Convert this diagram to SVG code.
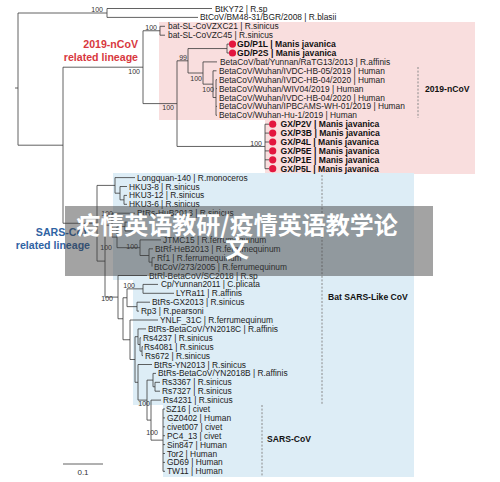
<svg xmlns="http://www.w3.org/2000/svg" width="500" height="482" viewBox="0 0 500 482">
<style>
.t{font-family:"Liberation Sans",Arial,Helvetica,sans-serif;font-size:8.4px;fill:#222}
.tb{font-weight:bold;font-size:8.6px;fill:#111}
.bs{font-family:"Liberation Sans",Arial,sans-serif;font-size:7px;fill:#333;text-anchor:end}
.br{fill:none;stroke:#3a3a3a;stroke-width:0.8}
.dot{fill:#e3163f}
.dash{fill:none;stroke:#8a8a8a;stroke-width:1;stroke-dasharray:2 1.6}
.lin{font-family:"Liberation Sans",Arial,sans-serif;font-size:10.6px;font-weight:bold;text-anchor:end}
.clade{font-family:"Liberation Sans",Arial,sans-serif;font-size:8.6px;font-weight:bold;fill:#111}
</style>
<rect width="500" height="482" fill="#fff"/>
<g id="panels">
<polygon points="159,22 475,22 475,174 265,174 265,120 159,120" fill="#f9dede"/>
<polygon points="113,173 414,173 414,477 163,477 163,405 133,405 133,280 113,280" fill="#ddedf6"/>
</g>
<g id="connectors" class="br">
<path d="M15,88H18M18,13V145.2M18,13H107M107,8.5V17.4M107,8.5H212M107,17.4H198M18,145.2H63M63,67.2V223.25M63,67.2H143M143,30.75V103.6M143,30.75H160M160,26.3V35.2M160,26.3H165M160,35.2H165M143,103.6H177M177,60.8V146.45M177,60.8H188M188,48.55V73M188,48.55H227M227,44.1V53M227,44.1H230M227,53H230M188,73H203M203,61.9V84.15M203,61.9H217M203,84.15H213M213,70.8V97.5M213,70.8H216.5M213,97.5H216M216,79.7V115.3M216,79.7H217M216,88.6H217M216,106.4H217M216,115.3H217M177,146.45H265M265,124.2V168.7M265,124.2H269M265,133.1H269M265,142H269M265,150.9H269M265,159.8H269M265,168.7H269"/>
<path d="M63,223.25H97M97,185.4V261.1M97,185.4H115M115,177.6V193.2M115,177.6H135M115,193.2H120M120,186.5V199.85M120,186.5H127M120,199.85H124M124,195.4V204.3M124,195.4H127M124,204.3H127M97,261.1H105M105,225.15V297.1M105,225.15H112M112,213.2V237.1M112,213.2H135M112,237.1H117M117,226.55V247.7M117,226.55H125M125,222.1V231M125,222.1H140M125,231H136M117,247.7H140M140,239.9V255.5M140,239.9H161M140,255.5H149M149,248.8V262.15M149,248.8H153M149,262.15H152M152,257.7V266.6M152,257.7H155"/>
<path d="M105,297.1H118M118,275.5V318.75M118,275.5H147M118,318.75H123M123,297.75V339.75M123,297.75H127M127,288.85V306.65M127,288.85H143M143,284.4V293.3M143,284.4H158M143,293.3H174M127,306.65H137M137,302.2V311.1M137,302.2H150M137,311.1H139M123,339.75H130M130,320V359.5M130,320H158M130,359.5H135M135,336.7V382.3M135,336.7H138M138,328.9V344.5M138,328.9H146M138,344.5H140M140,337.8V351.15M140,337.8H141M140,351.15H142M142,346.7V355.6M142,346.7H143M142,355.6H143M135,382.3H138M138,364.5V400.1M138,364.5H152M138,400.1H147M147,380.1V420.1M147,380.1H153M153,373.4V386.75M153,373.4H156M153,386.75H155M155,382.3V391.2M155,382.3H160M155,391.2H160M147,420.1H151M151,400.1V440.15M151,400.1H161M151,440.15H163M163,409V471.3M163,409H165M163,417.9H165M163,426.8H165M163,435.7H165M163,444.6H165M163,453.5H165M163,462.4H165M163,471.3H165"/>
<path d="M63,464H103"/>
</g>
<g id="bootstrap">
<text class="bs" x="103" y="11.5">100</text>
<text class="bs" x="157" y="29.5">100</text>
<text class="bs" x="140" y="74">100</text>
<text class="bs" x="174" y="110">100</text>
<text class="bs" x="187" y="59.5">99</text>
<text class="bs" x="202" y="81">100</text>
<text class="bs" x="214" y="92">100</text>
<text class="bs" x="262" y="145.5">100</text>
<text class="bs" x="113" y="215.5">100</text>
<text class="bs" x="112" y="249.5">100</text>
<text class="bs" x="138" y="248.5">100</text>
<text class="bs" x="135" y="287.5">100</text>
<text class="bs" x="113" y="300.5">100</text>
<text class="bs" x="150" y="405.5">100</text>
<text class="bs" x="158" y="434.5">100</text>
</g>
<g id="n-BtKY72"><text class="t" x="215" y="11.5">BtKY72 | R.sp</text></g>
<g id="n-BM48"><text class="t" x="200" y="20.4">BtCoV/BM48-31/BGR/2008 | R.blasii</text></g>
<g id="n-ZXC21"><text class="t" x="168" y="29.3">bat-SL-CoVZXC21 | R.sinicus</text></g>
<g id="n-ZC45"><text class="t" x="168" y="38.2">bat-SL-CoVZC45 | R.sinicus</text></g>
<g id="n-GDP1L"><circle class="dot" cx="232.5" cy="44.1" r="3.6"/><text class="t tb" x="237" y="47.1">GD/P1L | Manis javanica</text></g>
<g id="n-GDP2S"><circle class="dot" cx="232.5" cy="53" r="3.6"/><text class="t tb" x="237" y="56">GD/P2S | Manis javanica</text></g>
<g id="n-RaTG13"><text class="t" x="220" y="64.9">BetaCoV/bat/Yunnan/RaTG13/2013 | R.affinis</text></g>
<g id="n-HB05"><text class="t" x="219" y="73.8">BetaCoV/Wuhan/IVDC-HB-05/2019 | Human</text></g>
<g id="n-HB04a"><text class="t" x="219" y="82.7">BetaCoV/Wuhan/IVDC-HB-04/2020 | Human</text></g>
<g id="n-WIV04"><text class="t" x="219" y="91.6">BetaCoV/Wuhan/WIV04/2019 | Human</text></g>
<g id="n-HB04b"><text class="t" x="219" y="100.5">BetaCoV/Wuhan/IVDC-HB-04/2020 | Human</text></g>
<g id="n-IPBCAMS"><text class="t" x="219" y="109.4">BetaCoV/Wuhan/IPBCAMS-WH-01/2019 | Human</text></g>
<g id="n-Hu1"><text class="t" x="219" y="118.3">BetaCoV/Wuhan-Hu-1/2019 | Human</text></g>
<g id="n-GXP2V"><circle class="dot" cx="272.7" cy="124.2" r="3.6"/><text class="t tb" x="280.5" y="127.2">GX/P2V | Manis javanica</text></g>
<g id="n-GXP3B"><circle class="dot" cx="272.7" cy="133.1" r="3.6"/><text class="t tb" x="280.5" y="136.1">GX/P3B | Manis javanica</text></g>
<g id="n-GXP4L"><circle class="dot" cx="272.7" cy="142" r="3.6"/><text class="t tb" x="280.5" y="145">GX/P4L | Manis javanica</text></g>
<g id="n-GXP5E"><circle class="dot" cx="272.7" cy="150.9" r="3.6"/><text class="t tb" x="280.5" y="153.9">GX/P5E | Manis javanica</text></g>
<g id="n-GXP1E"><circle class="dot" cx="272.7" cy="159.8" r="3.6"/><text class="t tb" x="280.5" y="162.8">GX/P1E | Manis javanica</text></g>
<g id="n-GXP5L"><circle class="dot" cx="272.7" cy="168.7" r="3.6"/><text class="t tb" x="280.5" y="171.7">GX/P5L | Manis javanica</text></g>
<g id="n-Longquan"><text class="t" x="137" y="180.6">Longquan-140 | R.monoceros</text></g>
<g id="n-HKU3-8"><text class="t" x="129" y="189.5">HKU3-8 | R.sinicus</text></g>
<g id="n-HKU3-12"><text class="t" x="129" y="198.4">HKU3-12 | R.sinicus</text></g>
<g id="n-HKU3-6"><text class="t" x="129" y="207.3">HKU3-6 | R.sinicus</text></g>
<g id="n-HuB2013"><text class="t" x="137" y="216.2">BtRs-HuB2013 | R.sinicus</text></g>
<g id="n-JTMC15"><text class="t" x="163" y="242.9">JTMC15 | R.ferrumequinum</text></g>
<g id="n-HeB2013"><text class="t" x="155" y="251.8">BtRf-HeB2013 | R.ferrumequinum</text></g>
<g id="n-Rf1"><text class="t" x="157" y="260.7">Rf1 | R.ferrumequinum</text></g>
<g id="n-BtCoV273"><text class="t" x="154" y="269.6">BtCoV/273/2005 | R.ferrumequinum</text></g>
<g id="n-SC2018"><text class="t" x="149" y="278.5">BtRl-BetaCoV/SC2018 | R.sp</text></g>
<g id="n-Cp"><text class="t" x="161" y="287.4">Cp/Yunnan2011 | C.plicata</text></g>
<g id="n-LYRa11"><text class="t" x="176" y="296.3">LYRa11 | R.affinis</text></g>
<g id="n-GX2013"><text class="t" x="152" y="305.2">BtRs-GX2013 | R.sinicus</text></g>
<g id="n-Rp3"><text class="t" x="141" y="314.1">Rp3 | R.pearsoni</text></g>
<g id="n-YNLF"><text class="t" x="160" y="323">YNLF_31C | R.ferrumequinum</text></g>
<g id="n-YN2018C"><text class="t" x="148" y="331.9">BtRs-BetaCoV/YN2018C | R.affinis</text></g>
<g id="n-Rs4237"><text class="t" x="143" y="340.8">Rs4237 | R.sinicus</text></g>
<g id="n-Rs4081"><text class="t" x="144" y="349.7">Rs4081 | R.sinicus</text></g>
<g id="n-Rs672"><text class="t" x="145" y="358.6">Rs672 | R.sinicus</text></g>
<g id="n-YN2013"><text class="t" x="154" y="367.5">BtRs-YN2013 | R.sinicus</text></g>
<g id="n-YN2018B"><text class="t" x="158" y="376.4">BtRs-BetaCoV/YN2018B | R.affinis</text></g>
<g id="n-Rs3367"><text class="t" x="162" y="385.3">Rs3367 | R.sinicus</text></g>
<g id="n-Rs7327"><text class="t" x="162" y="394.2">Rs7327 | R.sinicus</text></g>
<g id="n-Rs4231"><text class="t" x="163" y="403.1">Rs4231 | R.sinicus</text></g>
<g id="n-SZ16"><text class="t" x="166" y="412">SZ16 | civet</text></g>
<g id="n-GZ0402"><text class="t" x="167" y="420.9">GZ0402 | Human</text></g>
<g id="n-civet007"><text class="t" x="167" y="429.8">civet007 | civet</text></g>
<g id="n-PC4_13"><text class="t" x="167" y="438.7">PC4_13 | civet</text></g>
<g id="n-Sin847"><text class="t" x="167" y="447.6">Sin847 | Human</text></g>
<g id="n-Tor2"><text class="t" x="167" y="456.5">Tor2 | Human</text></g>
<g id="n-GD69"><text class="t" x="167" y="465.4">GD69 | Human</text></g>
<g id="n-TW11"><text class="t" x="167" y="474.3">TW11 | Human</text></g>
<g id="clade-labels">
<path class="dash" d="M418,67V118"/>
<text class="clade" x="425" y="92">2019-nCoV</text>
<path class="dash" d="M322,175V405"/>
<text class="clade" x="328" y="300">Bat SARS-Like CoV</text>
<path class="dash" d="M262,405V477"/>
<text class="clade" x="267" y="442">SARS-CoV</text>
</g>
<g id="lineage-labels">
<text class="lin" x="138" y="48" fill="#d8383e">2019-nCoV</text>
<text class="lin" x="138" y="60.5" fill="#d8383e">related lineage</text>
<text class="lin" x="90" y="236" fill="#2f63a3">SARS-CoV</text>
<text class="lin" x="90" y="248.5" fill="#2f63a3">related lineage</text>
</g>
<g id="scale"><text x="83" y="475" font-family="Liberation Sans, Arial, sans-serif" font-size="8" fill="#333" text-anchor="middle">0.1</text></g>
<g id="watermark">
<rect x="65" y="206" width="368" height="70" fill="#3c3c3c" fill-opacity="0.47"/>
<text x="237" y="234" text-anchor="middle" font-family="Noto Sans CJK SC, sans-serif" font-weight="bold" font-size="24" fill="#fff">疫情英语教研/疫情英语教学论</text>
<text x="237" y="257" text-anchor="middle" font-family="Noto Sans CJK SC, sans-serif" font-weight="bold" font-size="24" fill="#fff">文</text>
</g>
</svg>
